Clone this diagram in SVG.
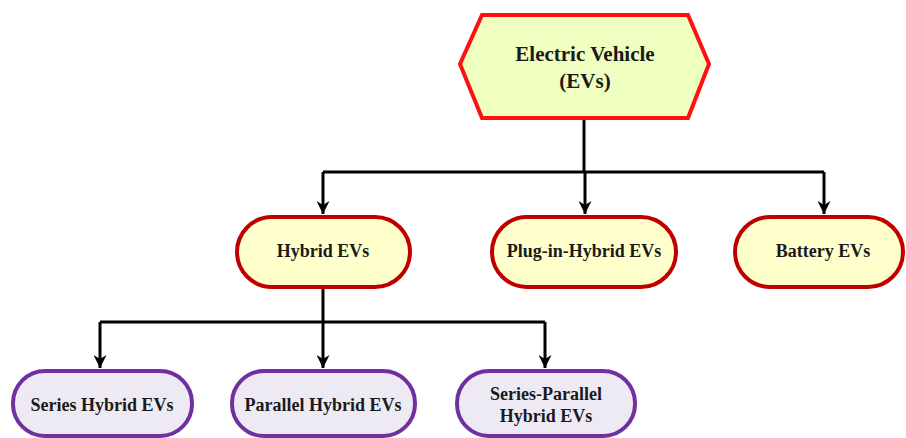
<svg xmlns="http://www.w3.org/2000/svg" width="906" height="438" viewBox="0 0 906 438">
<defs>
<marker id="arr" markerWidth="13" markerHeight="13" refX="13" refY="6.5" orient="auto" markerUnits="userSpaceOnUse" viewBox="0 0 13 13">
<path d="M0,0 L13,6.5 L0,13 L4,6.5 Z" fill="#000"/>
</marker>
<style>
.t{font-family:"Liberation Serif","Times New Roman",serif;font-weight:bold;fill:#1a1a1a;text-anchor:middle}
.l2{fill:#ffffcc;stroke:#c00000;stroke-width:4}
.l3{fill:#eeeaf4;stroke:#7030a0;stroke-width:4}
.c{fill:none;stroke:#000;stroke-width:3}
</style>
</defs>
<rect width="906" height="438" fill="#fff"/>
<g id="connectors">
<path class="c" d="M584,118 V172"/>
<path class="c" d="M323,172 H824"/>
<path class="c" d="M323,172 V214" marker-end="url(#arr)"/>
<path class="c" d="M585,172 V214" marker-end="url(#arr)"/>
<path class="c" d="M824,172 V214" marker-end="url(#arr)"/>
<path class="c" d="M323,288 V368" marker-end="url(#arr)"/>
<path class="c" d="M100,322 H545"/>
<path class="c" d="M100,322 V368" marker-end="url(#arr)"/>
<path class="c" d="M545,322 V368" marker-end="url(#arr)"/>
</g>
<g id="ev">
<polygon points="482,15 688,15 709,64 688,118 482,118 460,64" fill="#eeffc0" stroke="#ff1010" stroke-width="4"/>
<text class="t" x="585" y="61" font-size="21">Electric Vehicle</text>
<text class="t" x="585" y="88" font-size="21">(EVs)</text>
</g>
<g id="hybrid">
<rect class="l2" x="237" y="217" width="173" height="70" rx="35"/>
<text class="t" x="323" y="257" font-size="18">Hybrid EVs</text>
</g>
<g id="plugin">
<rect class="l2" x="492" y="217" width="184" height="70" rx="35"/>
<text class="t" x="584" y="257" font-size="18">Plug-in-Hybrid EVs</text>
</g>
<g id="battery">
<rect class="l2" x="735" y="217" width="168" height="70" rx="35"/>
<text class="t" x="823" y="257" font-size="18">Battery EVs</text>
</g>
<g id="series">
<rect class="l3" x="13" y="371" width="179" height="65" rx="32"/>
<text class="t" x="102" y="411" font-size="18">Series Hybrid EVs</text>
</g>
<g id="parallel">
<rect class="l3" x="232" y="371" width="183" height="65" rx="32"/>
<text class="t" x="323" y="411" font-size="18">Parallel Hybrid EVs</text>
</g>
<g id="seriesparallel">
<rect class="l3" x="457" y="371" width="178" height="65" rx="32"/>
<text class="t" x="546" y="400" font-size="18">Series-Parallel</text>
<text class="t" x="546" y="422" font-size="18">Hybrid EVs</text>
</g>
</svg>
